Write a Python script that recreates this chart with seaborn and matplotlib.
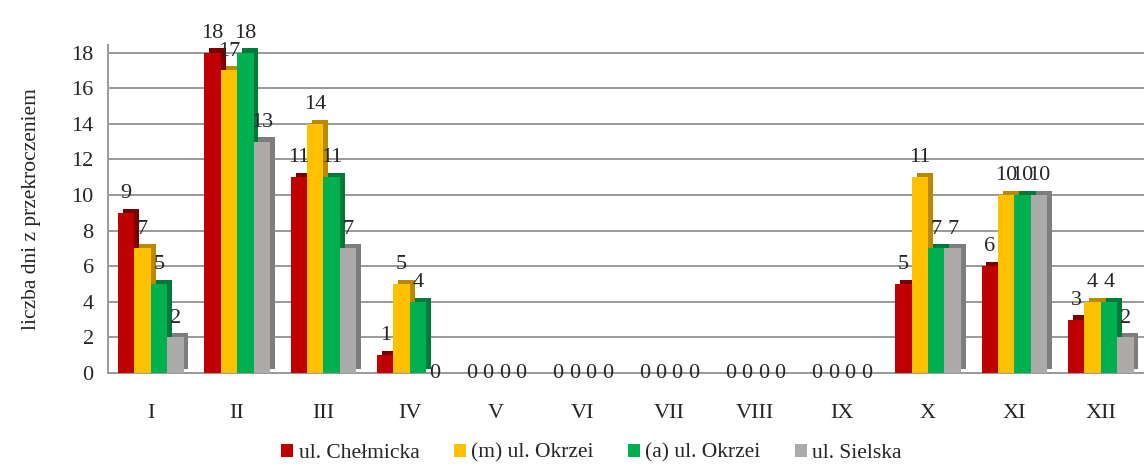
import pandas as pd
import matplotlib.pyplot as plt
import matplotlib.patheffects as pe
from matplotlib.patches import Patch
import seaborn as sns

months = ["I", "II", "III", "IV", "V", "VI", "VII", "VIII", "IX", "X", "XI", "XII"]
series = ["ul. Chełmicka", "(m) ul. Okrzei", "(a) ul. Okrzei", "ul. Sielska"]
chelmicka = [9, 18, 11, 1, 0, 0, 0, 0, 0, 5, 6, 3]
okrzei_m = [7, 17, 14, 5, 0, 0, 0, 0, 0, 11, 10, 4]
okrzei_a = [5, 18, 11, 4, 0, 0, 0, 0, 0, 7, 10, 4]
sielska = [2, 13, 7, 0, 0, 0, 0, 0, 0, 7, 10, 2]

colors = ["#C00000", "#FFC000", "#00B050", "#ADAAAA"]
sides = ["#7A0000", "#B88A00", "#007A3A", "#7E7C7C"]

sns.set_theme(style="white")
plt.rcParams.update({
    "font.family": ["Liberation Serif", "DejaVu Serif"],
    "font.size": 16,
})

rows = []
for name, vals in zip(series, [chelmicka, okrzei_m, okrzei_a, sielska]):
    for m, v in zip(months, vals):
        rows.append({"month": m, "series": name, "value": v})
df = pd.DataFrame(rows)

fig = plt.figure(figsize=(11.44, 4.68), dpi=100)
ax = fig.add_axes([0.094, 0.203, 0.906, 0.70])

sns.barplot(data=df, x="month", y="value", hue="series", order=months,
            hue_order=series, palette=colors, saturation=1, width=0.76, ax=ax,
            edgecolor="none", legend=False, zorder=3)

# fake 3D depth with a darker offset copy behind each bar
for container, side in zip(ax.containers, sides):
    for bar in container:
        bar.set_path_effects([
            pe.SimplePatchShadow(offset=(3.5, 3), shadow_rgbFace=side, alpha=1.0),
            pe.Normal(),
        ])
    heights = [int(b.get_height()) for b in container]
    ax.bar_label(container, labels=[str(h) if h else "" for h in heights],
                 padding=7, fontsize=16, zorder=5)
    ax.bar_label(container, labels=["0" if h == 0 else "" for h in heights],
                 padding=-7, fontsize=16, zorder=5)

ax.set_ylim(0, 18.4)
ax.set_xlim(-0.5, 11.5)
ax.set_yticks(range(0, 19, 2))
ax.yaxis.grid(True, color="#9A9A9A", linewidth=1.4, zorder=0)
ax.set_xlabel("")
ax.set_ylabel("liczba dni z przekroczeniem", fontsize=15.5, labelpad=22)
for s in ["top", "right"]:
    ax.spines[s].set_visible(False)
ax.spines["left"].set_color("#9A9A9A")
ax.spines["bottom"].set_color("#9A9A9A")
ax.spines["left"].set_linewidth(1.4)
ax.spines["bottom"].set_linewidth(1.4)

ax.set_xticks([i - 0.5 for i in range(13)], minor=True)
ax.tick_params(axis="x", which="minor", length=9, color="#9A9A9A", width=1.2)
ax.tick_params(axis="x", which="major", length=0, pad=22, labelsize=16)
ax.tick_params(axis="y", length=6, color="#9A9A9A", width=1.2, labelsize=16, pad=4)

handles = [Patch(facecolor=c, edgecolor="none") for c in colors]
fig.legend(handles, series, loc="lower center", ncol=4, frameon=False,
           bbox_to_anchor=(0.517, -0.03), fontsize=15.5, handlelength=0.55,
           handleheight=0.55, handletextpad=0.25, columnspacing=1.6)

fig.savefig("out.png", dpi=100)
